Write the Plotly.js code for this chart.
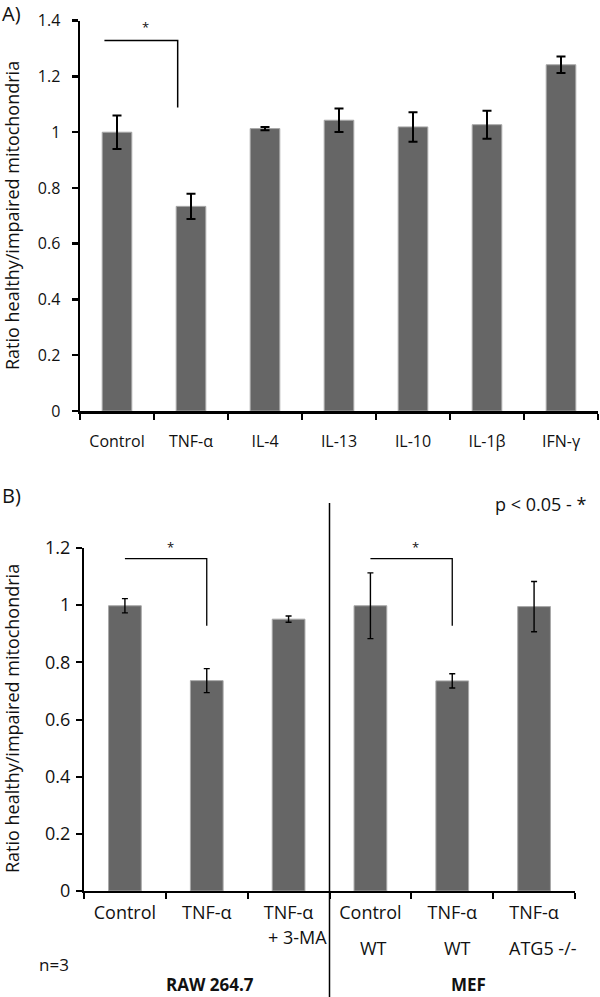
<!DOCTYPE html>
<html>
<head>
<meta charset="utf-8">
<script src="https://cdn.plot.ly/plotly-3.0.1.min.js"></script>
<style>
html,body{margin:0;padding:0;background:#fff;}
#chart{width:600px;height:997px;}
</style>
</head>
<body>
<div id="chart"></div>
<script>
// ---- Data ----
const catsA = ["Control", "TNF-α", "IL-4", "IL-13", "IL-10", "IL-1β", "IFN-γ"];
const valsA = [1.00, 0.734, 1.013, 1.043, 1.019, 1.027, 1.242];
const errA  = [0.060, 0.045, 0.006, 0.042, 0.053, 0.050, 0.030];

const catsB = ["Control", "TNF-α", "TNF-α", "Control", "TNF-α", "TNF-α"];
const subB  = ["", "", "+ 3-MA", "WT", "WT", "ATG5 -/-"];
const valsB = [0.998, 0.736, 0.951, 0.998, 0.735, 0.995];
const errB  = [0.025, 0.042, 0.011, 0.115, 0.025, 0.088];
const groupsB = ["RAW 264.7", "MEF"];

const yTitle = "Ratio healthy/impaired mitochondria";
const sigNote = "p < 0.05 - *";
const nNote = "n=3";

// ---- Helpers (pixel -> paper) ----
const W = 600, H = 997;
const px = v => v / W;
const py = v => 1 - v / H;
const FONT = "Open Sans, Noto Sans, sans-serif";

const idxA = catsA.map((_, i) => i);
const idxB = catsB.map((_, i) => i);
const boundsA = [...catsA.map((_, i) => i - 0.5), catsA.length - 0.5];
const boundsB = [...catsB.map((_, i) => i - 0.5), catsB.length - 0.5];

const barA = {
  type: "bar", x: idxA, y: valsA, width: 0.4, xaxis: "x", yaxis: "y",
  marker: {color: "#666666", line: {color: "#a8a8a8", width: 1}},
  error_y: {type: "data", array: errA, visible: true, color: "#000", thickness: 2, width: 4.5},
  hoverinfo: "skip", showlegend: false
};
const barB = {
  type: "bar", x: idxB, y: valsB, width: 0.4, xaxis: "x2", yaxis: "y2",
  marker: {color: "#666666", line: {color: "#a8a8a8", width: 1}},
  error_y: {type: "data", array: errB, visible: true, color: "#000", thickness: 1.4, width: 3},
  hoverinfo: "skip", showlegend: false
};

const annotations = [
  {text: "A)", x: px(0), y: py(13), xanchor: "left", yanchor: "middle", font: {size: 20}},
  {text: "B)", x: px(0), y: py(496), xanchor: "left", yanchor: "middle", font: {size: 20}},
  {text: yTitle, x: px(12), y: py(216), textangle: -90, xanchor: "center", yanchor: "middle", font: {size: 18}},
  {text: yTitle, x: px(12), y: py(719), textangle: -90, xanchor: "center", yanchor: "middle", font: {size: 18}},
  {text: "*", x: px(145), y: py(27), xanchor: "center", yanchor: "middle", font: {size: 13}},
  {text: "*", x: px(170), y: py(547), xanchor: "center", yanchor: "middle", font: {size: 13}},
  {text: "*", x: px(415), y: py(547), xanchor: "center", yanchor: "middle", font: {size: 13}},
  {text: sigNote, x: px(588), y: py(504), xanchor: "right", yanchor: "middle", font: {size: 18}},
  {text: nNote, x: px(54), y: py(964), xanchor: "center", yanchor: "middle", font: {size: 17}},
  {text: "<b>" + groupsB[0] + "</b>", x: px(210), y: py(984), xanchor: "center", yanchor: "middle", font: {size: 17}},
  {text: "<b>" + groupsB[1] + "</b>", x: px(468), y: py(984), xanchor: "center", yanchor: "middle", font: {size: 17}}
];
// second label lines under bottom categories
const subOffsetX = [0, 0, 9, 3, 5, 9];
const subY = [0, 0, 936.5, 947.5, 947.5, 947.5];
subB.forEach((s, i) => {
  if (!s) return;
  const cx = 84 + (i + 0.5) * (491 / 6) + subOffsetX[i];
  annotations.push({text: s, x: px(cx), y: py(subY[i]), xanchor: "center", yanchor: "middle", font: {size: 18}});
});
annotations.forEach(a => {
  a.showarrow = false;
  if (!a.xref) a.xref = "paper";
  if (!a.yref) a.yref = "paper";
  a.font = Object.assign({family: FONT, color: "#111"}, a.font);
});

const shapes = [
  // top bracket
  {type: "path", xref: "x", yref: "y", path: "M -0.17,1.329 L 0.82,1.329 L 0.82,1.089", line: {color: "#000", width: 1.5}},
  // bottom brackets
  {type: "path", xref: "x2", yref: "y2", path: "M 0,1.163 L 1,1.163 L 1,0.928", line: {color: "#000", width: 1.3}},
  {type: "path", xref: "x2", yref: "y2", path: "M 3,1.163 L 4,1.163 L 4,0.928", line: {color: "#000", width: 1.3}},
  // divider
  {type: "line", xref: "x2", yref: "paper", x0: 2.5, x1: 2.5, y0: 0, y1: py(503), line: {color: "#000", width: 1.5}}
];

const layout = {
  width: W, height: H,
  margin: {l: 0, r: 0, t: 0, b: 0},
  paper_bgcolor: "#fff", plot_bgcolor: "rgba(0,0,0,0)",
  font: {family: FONT, color: "#111"},
  showlegend: false,
  xaxis: {
    domain: [px(80), px(598)], anchor: "y", range: [-0.5, catsA.length - 0.5],
    tickmode: "array", tickvals: idxA, ticktext: catsA, ticks: "",
    minor: {tickmode: "array", tickvals: boundsA, ticks: "outside", ticklen: 6, tickwidth: 2.5, tickcolor: "#000", showgrid: false},
    showline: true, linecolor: "#000", linewidth: 2.5, showgrid: false, zeroline: false,
    tickfont: {size: 16}, ticklabelstandoff: 14, fixedrange: true
  },
  yaxis: {
    domain: [py(411), py(20.7)], anchor: "x", range: [0, 1.4], dtick: 0.2, tick0: 0,
    ticks: "outside", ticklen: 6, tickwidth: 2.5, tickcolor: "#000",
    showline: true, linecolor: "#000", linewidth: 2.5, showgrid: false, zeroline: false,
    tickfont: {size: 16}, ticklabelstandoff: 8, fixedrange: true
  },
  xaxis2: {
    domain: [px(84), px(575)], anchor: "y2", range: [-0.5, catsB.length - 0.5],
    tickmode: "array", tickvals: idxB, ticktext: catsB, ticks: "",
    minor: {tickmode: "array", tickvals: boundsB, ticks: "outside", ticklen: 6, tickwidth: 2, tickcolor: "#000", showgrid: false},
    showline: true, linecolor: "#000", linewidth: 2, showgrid: false, zeroline: false,
    tickfont: {size: 18}, ticklabelstandoff: 4, fixedrange: true
  },
  yaxis2: {
    domain: [py(891), py(548)], anchor: "x2", range: [0, 1.2], dtick: 0.2, tick0: 0,
    ticks: "outside", ticklen: 6, tickwidth: 2, tickcolor: "#000",
    showline: true, linecolor: "#000", linewidth: 2, showgrid: false, zeroline: false,
    tickfont: {size: 18}, ticklabelstandoff: 2, fixedrange: true
  },
  annotations: annotations,
  shapes: shapes
};

Plotly.newPlot("chart", [barA, barB], layout, {staticPlot: true, displayModeBar: false});
</script>
</body>
</html>
